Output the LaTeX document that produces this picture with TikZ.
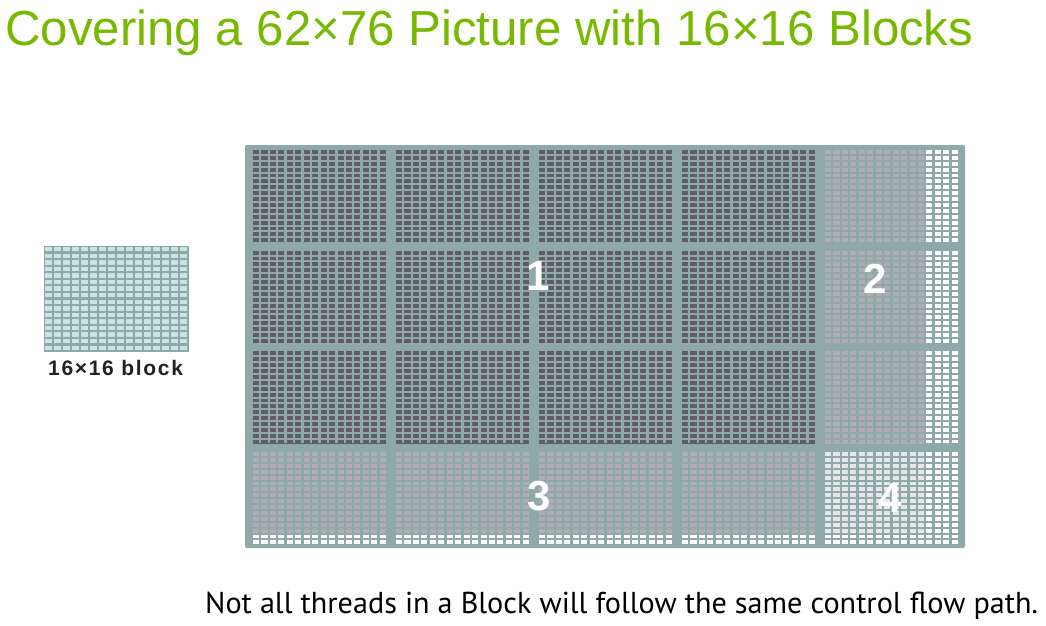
\documentclass[tikz,border=0pt]{standalone}
\usepackage{fontspec}
\setmainfont{Liberation Sans}
\newfontfamily\notefont{PT Sans}
\definecolor{framegray}{HTML}{8FA8A8}
\definecolor{titlegreen}{HTML}{76B900}
\definecolor{cell0}{HTML}{5F5C62}
\definecolor{cell1}{HTML}{B0AEB4}
\definecolor{cell2}{HTML}{B0AEB4}
\definecolor{cell3}{HTML}{E6E6E8}
\definecolor{threadcyan}{HTML}{C8E4E4}
\definecolor{labelgray}{HTML}{222222}
\tikzset{
  gapline/.style={fill=framegray},
  blocknum/.style={text=white, font=\bfseries\fontsize{42}{42}\selectfont},
}
\begin{document}
\begin{tikzpicture}[x=1pt, y=-1pt]
  \useasboundingbox (0,0) rectangle (1046,625);
  % Title
  \node[anchor=base west, inner sep=0pt, text=titlegreen,
        font=\fontsize{49.2}{49.2}\selectfont] (title) at (5,45)
        {Covering a 62×76 Picture with 16×16 Blocks};

  % Single 16x16 block
  \fill[framegray] (43.5,245.5) rectangle (188.5,351.5);
  \fill[threadcyan] (45,247) rectangle (187,350);
  \foreach \k in {1,...,15}{
    \fill[gapline] ({45+\k*9.01-2.2},247) rectangle ++(2.2,103);
    \fill[gapline] (45,{247+\k*6.575-2.2}) rectangle ++(142,2.2);
  }
  \node[anchor=base west, inner sep=0pt, text=labelgray,
        font=\bfseries\addfontfeatures{LetterSpace=8}\fontsize{21}{21}\selectfont]
        (blocklabel) at (48,375) {16×16 block};

  % Picture covered by 5x4 blocks
  \fill[framegray, rounded corners=2pt] (245,145) rectangle (965,548);
  \foreach \i in {0,...,4}{
    \foreach \j in {0,...,3}{
      \pgfmathsetmacro{\bx}{253+143*\i}
      \pgfmathsetmacro{\by}{150+100.7*\j}
      \pgfmathtruncatemacro{\nc}{\i==4 ? 12 : 16}
      \pgfmathtruncatemacro{\nr}{\j==3 ? 14 : 16}
      \pgfmathtruncatemacro{\kind}{(\i==4)+2*(\j==3)}
      \fill[white] (\bx,\by) rectangle ++(133,92);
      \fill[cell\kind] (\bx,\by) rectangle ++({\nc*8.45-2.4},{\nr*5.89-2});
      \foreach \k in {1,...,15}{
        \fill[gapline] ({\bx+\k*8.45-2.4},\by) rectangle ++(2.4,92);
        \fill[gapline] (\bx,{\by+\k*5.89-2}) rectangle ++(133,2);
      }
    }
  }
  \node[blocknum] (num1) at (538,276) {1};
  \node[blocknum] (num2) at (875,279) {2};
  \node[blocknum] (num3) at (539,496) {3};
  \node[blocknum] (num4) at (890,498) {4};

  % Note
  \node[anchor=base west, inner sep=0pt, font=\notefont\fontsize{30.2}{30.2}\selectfont]
        (note) at (205,613)
        {Not all threads in a Block will follow the same control flow path.};
\end{tikzpicture}
\end{document}
